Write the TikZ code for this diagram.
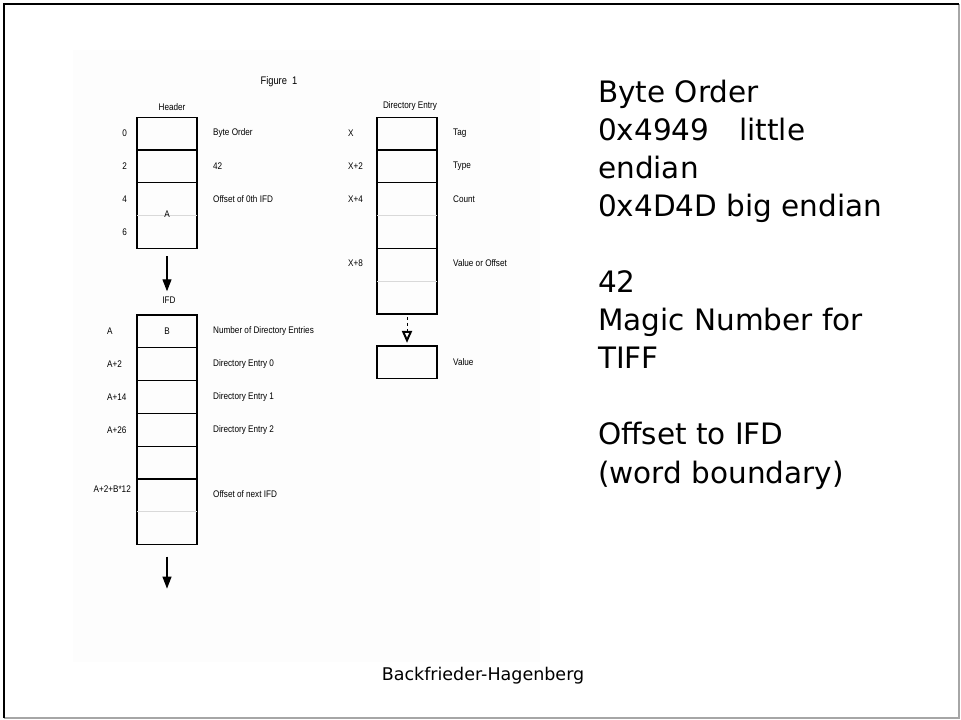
\documentclass[tikz,border=0pt]{standalone}
\usepackage{fontspec}
\setmainfont{DejaVu Sans}
\newfontfamily\figfont[FakeStretch=0.85]{Liberation Sans}
\usetikzlibrary{arrows.meta, positioning}

\begin{document}
\begin{tikzpicture}[x=1pt, y=-1pt, >={Triangle[width=9pt, length=12pt]}, node distance=0pt,
            cell/.style={draw, rectangle, minimum height=32.8pt, minimum width=60pt, outer sep=0pt, inner sep=0pt, line width=1.2pt, font=\figfont\fontsize{9.6}{10}\selectfont},
            lbl/.style={inner sep=0pt, font=\figfont\fontsize{9.6}{10}\selectfont},
            faint/.style={black!15, line width=1.2pt},
            note/.style={inner sep=0pt, anchor=base west, font=\fontsize{29.5}{38}\selectfont}]

            \useasboundingbox (0,0) rectangle (961,720);
            % slide frame and figure background
            \fill[black!0.6] (73,50) rectangle (540,662);
            \draw[black!35, line width=2pt] (959,4) -- (959,718) -- (4,718);
            \draw[line width=2.5pt] (4,718) -- (4,4) -- (959,4);

            \node[lbl, font=\figfont\fontsize{11}{12}\selectfont] (fig) at (279,82) {Figure\ \ 1};

            % header
            \node[cell] (h0) at (167,133.5) {};
            \node[cell, below=of h0] (h1) {};
            \node[cell, below=of h1] (h2) {};
            \node[cell, below=of h2] (h3) {};
            \draw[faint] (h2.south west) -- (h2.south east);
            \node[lbl, above=6pt of h0, xshift=5pt] (hdr) {Header};
            \node[lbl, yshift=1.5pt] (offA) at (h2.south) {A};
            \node[lbl, left=10pt of h0] (o0) {0};
            \node[lbl, left=10pt of h1] (o2) {2};
            \node[lbl, left=10pt of h2] (o4) {4};
            \node[lbl, left=10pt of h3] (o6) {6};
            \node[lbl, right=16pt of h0] (bo) {Byte Order};
            \node[lbl, right=16pt of h1] (magic) {42};
            \node[lbl, right=16pt of h2] (off0) {Offset of 0th IFD};

            % IFD
            \node[cell] (i0) at (167,331.4) {B};
            \foreach \k [remember=\k as \j (initially 0)] in {1,...,6}
                \node[cell, below=of i\j] (i\k) {};
            \draw[faint] (i5.south west) -- (i5.south east);
            \node[lbl, above=11pt of i0, xshift=2pt] (ifd) {IFD};
            \node[lbl, anchor=west] (oA) at ([xshift=-30pt]i0.west) {A};
            \node[lbl, anchor=west] (oA2) at ([xshift=-30pt]i1.west) {A+2};
            \node[lbl, anchor=west] (oA14) at ([xshift=-30pt]i2.west) {A+14};
            \node[lbl, anchor=west] (oA26) at ([xshift=-30pt]i3.west) {A+26};
            \node[lbl, anchor=east] (oNext) at ([xshift=-6pt, yshift=6pt]i5.west) {A+2+B*12};
            \node[lbl, right=16pt of i0] (num) {Number of Directory Entries};
            \node[lbl, right=16pt of i1] (de0) {Directory Entry 0};
            \node[lbl, right=16pt of i2] (de1) {Directory Entry 1};
            \node[lbl, right=16pt of i3] (de2) {Directory Entry 2};
            \node[lbl, right=16pt of i5, yshift=1pt] (nxtIFD) {Offset of next IFD};

            \coordinate[below=43pt of h3] (toIFD);
            \draw[->, line width=1.2pt] ([yshift=-8pt]h3.south) -- (toIFD);
            \coordinate[below=44pt of i6] (more);
            \draw[->, line width=1.2pt] ([yshift=-12pt]i6.south) -- (more);

            % directory entry
            \node[cell] (d0) at (407,133.5) {};
            \foreach \k [remember=\k as \j (initially 0)] in {1,...,5}
                \node[cell, below=of d\j] (d\k) {};
            \draw[faint] (d2.south west) -- (d2.south east);
            \draw[faint] (d4.south west) -- (d4.south east);
            \node[lbl, above=6pt of d0, xshift=3pt] (dirhdr) {Directory Entry};
            \node[lbl, anchor=west] (oX) at ([xshift=-29pt]d0.west) {X};
            \node[lbl, anchor=west] (oX2) at ([xshift=-29pt]d1.west) {X+2};
            \node[lbl, anchor=west] (oX4) at ([xshift=-29pt]d2.west) {X+4};
            \node[lbl, anchor=west] (oX8) at ([xshift=-29pt, yshift=2pt]d4.west) {X+8};
            \node[lbl, right=16pt of d0] (tag) {Tag};
            \node[lbl, right=16pt of d1] (type) {Type};
            \node[lbl, right=16pt of d2] (count) {Count};
            \node[lbl, right=16pt of d4, yshift=2pt] (vo) {Value or Offset};
            \node[cell, below=32pt of d5] (v) {};
            \node[lbl, right=16pt of v] (val) {Value};
            \draw[dashed, thin, -{Triangle[open, width=10pt, length=12pt, line width=2pt]}] ([yshift=-3pt]d5.south) -- ([yshift=3pt]v.north);

            % notes on the right
            \foreach \yy/\txt [count=\k] in {102/Byte Order, 140.1/{0x4949\hspace{30pt}little}, 178.2/endian, 216.3/0x4D4D big endian,
                    292.5/42, 330.6/Magic Number for, 368.7/TIFF, 444.9/Offset to IFD, 483/(word boundary)}
                \node[note] (note\k) at (598,\yy) {\txt};

            \node[inner sep=0pt, anchor=base, font=\fontsize{17.5}{20}\selectfont] (foot) at (483,680) {Backfrieder-Hagenberg};
        \end{tikzpicture}
\end{document}
